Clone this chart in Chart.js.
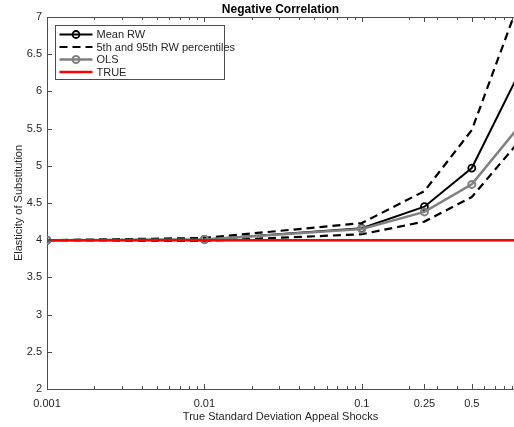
<!DOCTYPE html>
<html>
<head>
<meta charset="utf-8">
<script src="https://cdn.jsdelivr.net/npm/chart.js@4"></script>
<style>
  html, body { margin: 0; padding: 0; background: #fff; }
  #wrap { width: 514px; height: 427px; position: relative; }
</style>
</head>
<body>
<div id="wrap"><canvas id="chart"></canvas></div>
<script>
// Shock standard deviations (log scale) and estimated elasticities
const shockSd = [0.001, 0.01, 0.1, 0.25, 0.5, 1];
const meanRW = [4.0, 4.01, 4.16, 4.45, 4.97, 6.25];
const rwP95 = [4.0, 4.03, 4.23, 4.66, 5.48, 7.21];
const rwP5 = [4.0, 3.99, 4.08, 4.25, 4.58, 5.33];
const olsEst = [4.0, 4.01, 4.15, 4.38, 4.75, 5.53];
const trueElasticity = 4;

const xTickLabels = [0.001, 0.01, 0.1, 0.25, 0.5];
const yTickStep = 0.5;

const FONT = "'Liberation Sans', Arial, Helvetica, sans-serif";
const TEXT = "#262626";
const AXIS = "#4d4d4d";

// minor tick positions on the log axis
const xMinorTicks = [];
[0.001, 0.01, 0.1].forEach(d => {
    for (let k = 2; k <= 9; k++) xMinorTicks.push(d * k);
});

function pts(ys) {
    return shockSd.map((x, i) => ({ x: x, y: ys[i] }));
}

// MATLAB-like ticks drawn inside the box, plus the top edge
const insideTicks = {
    id: "insideTicks",
    afterDraw(chart) {
        const { ctx, chartArea: a, scales } = chart;
        const x = scales.x, y = scales.y;
        ctx.save();
        ctx.strokeStyle = AXIS;
        ctx.lineWidth = 1;
        ctx.beginPath();
        ctx.moveTo(a.left, a.top + 0.5);
        ctx.lineTo(a.right, a.top + 0.5);
        const mark = (v, len) => {
            const px = Math.round(x.getPixelForValue(v)) + 0.5;
            if (px < a.left || px > a.right) return;
            ctx.moveTo(px, a.bottom);
            ctx.lineTo(px, a.bottom - len);
            ctx.moveTo(px, a.top);
            ctx.lineTo(px, a.top + len);
        };
        xMinorTicks.forEach(v => mark(v, 3));
        xTickLabels.forEach(v => mark(v, 5));
        y.ticks.forEach(t => {
            const py = Math.round(y.getPixelForValue(t.value)) + 0.5;
            ctx.moveTo(a.left, py);
            ctx.lineTo(a.left + 5, py);
        });
        ctx.stroke();
        ctx.restore();
    }
};

// legend box in the upper left corner of the plot
const boxLegend = {
    id: "boxLegend",
    afterDraw(chart) {
        const { ctx, chartArea: a } = chart;
        const items = chart.data.datasets.filter(d => !d.noLegend);
        const bx = a.left + 8.5, by = a.top + 8.5, bw = 169, bh = 54;
        ctx.save();
        ctx.fillStyle = "#fff";
        ctx.fillRect(bx, by, bw, bh);
        ctx.strokeStyle = AXIS;
        ctx.lineWidth = 1;
        ctx.strokeRect(bx, by, bw, bh);
        ctx.font = "11px " + FONT;
        ctx.textBaseline = "middle";
        items.forEach((d, i) => {
            const cy = by + 9 + i * 12.5;
            ctx.strokeStyle = d.borderColor;
            ctx.lineWidth = d.borderWidth;
            ctx.setLineDash(d.borderDash || []);
            ctx.beginPath();
            ctx.moveTo(bx + 4, cy);
            ctx.lineTo(bx + 37, cy);
            ctx.stroke();
            ctx.setLineDash([]);
            if (d.pointRadius) {
                ctx.lineWidth = d.pointBorderWidth;
                ctx.strokeStyle = d.borderColor;
                ctx.beginPath();
                ctx.arc(bx + 20.5, cy, d.pointRadius, 0, Math.PI * 2);
                ctx.stroke();
            }
            ctx.fillStyle = TEXT;
            ctx.fillText(d.label, bx + 41, cy + 0.5);
        });
        ctx.restore();
    }
};

const ctx = document.getElementById("chart").getContext("2d");

new Chart(ctx, {
    type: "line",
    data: {
        datasets: [
            {
                label: "Mean RW",
                data: pts(meanRW),
                borderColor: "#000",
                borderWidth: 2,
                pointRadius: 3.5,
                pointBorderWidth: 1.8,
                pointBackgroundColor: "rgba(0,0,0,0)",
                pointBorderColor: "#000",
                order: 2
            },
            {
                label: "5th and 95th RW percentiles",
                data: pts(rwP95),
                borderColor: "#000",
                borderWidth: 2.2,
                borderDash: [8, 5],
                pointRadius: 0,
                order: 3
            },
            {
                label: "5th RW percentile",
                noLegend: true,
                data: pts(rwP5),
                borderColor: "#000",
                borderWidth: 2.2,
                borderDash: [8, 5],
                pointRadius: 0,
                order: 3
            },
            {
                label: "OLS",
                data: pts(olsEst),
                borderColor: "#808080",
                borderWidth: 2.5,
                pointRadius: 3.5,
                pointBorderWidth: 2,
                pointBackgroundColor: "rgba(0,0,0,0)",
                pointBorderColor: "#808080",
                order: 1
            },
            {
                label: "TRUE",
                data: [{ x: shockSd[0], y: trueElasticity }, { x: shockSd[shockSd.length - 1], y: trueElasticity }],
                borderColor: "#ff0000",
                borderWidth: 2.5,
                pointRadius: 0,
                order: 0
            }
        ]
    },
    options: {
        responsive: true,
        maintainAspectRatio: false,
        animation: false,
        layout: { padding: 0, autoPadding: false },
        plugins: {
            legend: { display: false },
            tooltip: { enabled: false },
            title: {
                display: true,
                fullSize: false,
                text: "Negative Correlation",
                color: "#000",
                font: { family: FONT, size: 12, weight: "bold" },
                padding: { top: 2, bottom: 0.6 }
            }
        },
        scales: {
            x: {
                type: "logarithmic",
                min: 0.001,
                max: 0.927,
                afterFit: s => {
                    s.height = 38;
                    s.paddingLeft = 0;
                    s.paddingRight = 0;
                },
                afterBuildTicks: s => {
                    s.ticks = xTickLabels.map(v => ({ value: v }));
                },
                grid: { display: false },
                border: { display: true, color: AXIS, width: 1 },
                ticks: {
                    autoSkip: false,
                    maxRotation: 0,
                    padding: 0,
                    color: TEXT,
                    font: { family: FONT, size: 11 },
                    callback: v => String(v)
                },
                title: {
                    display: true,
                    text: "True Standard Deviation Appeal Shocks",
                    color: TEXT,
                    font: { family: FONT, size: 11 },
                    padding: { top: 0, bottom: 3 }
                }
            },
            y: {
                min: 2,
                max: 7,
                afterFit: s => { s.width = 47; },
                grid: { display: false, tickLength: 0 },
                border: { display: true, color: AXIS, width: 1 },
                ticks: {
                    stepSize: yTickStep,
                    padding: 5,
                    color: TEXT,
                    font: { family: FONT, size: 11 },
                    callback: v => String(v)
                },
                title: {
                    display: true,
                    text: "Elasticity of Substitution",
                    color: TEXT,
                    font: { family: FONT, size: 11 },
                    padding: { top: 12, bottom: 0 }
                }
            }
        }
    },
    plugins: [insideTicks, boxLegend]
});
</script>
</body>
</html>
